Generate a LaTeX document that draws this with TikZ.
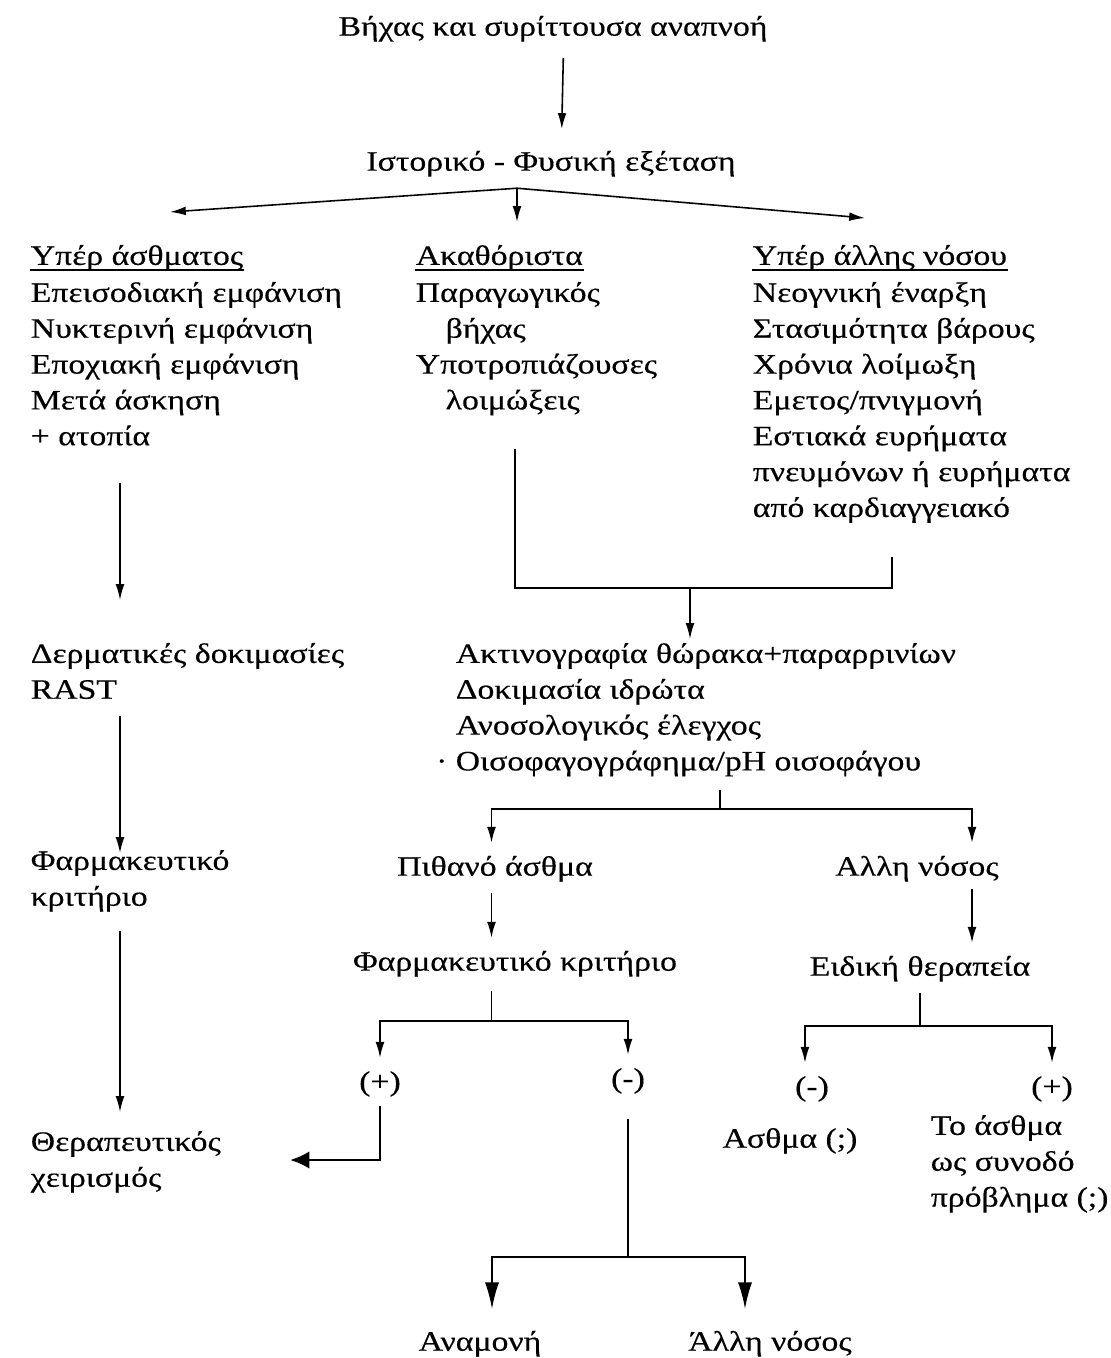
\documentclass[tikz,border=0pt]{standalone}
\usepackage{fontspec}
\setmainfont[FakeStretch=1.2,FakeBold=0.4]{Liberation Serif}
\usetikzlibrary{arrows.meta}
\tikzset{
  txt/.style={inner sep=0pt,anchor=north west,align=left,font=\fontsize{16}{20.4}\selectfont},
  ctxt/.style={inner sep=0pt,anchor=center,font=\fontsize{16}{20.4}\selectfont,execute at begin node=\rule[-6.12pt]{0pt}{24.4pt}},
  arr/.style={-{Latex[length=9pt,width=5pt]}},
  bigarr/.style={-{Latex[length=15pt,width=8pt]}},
  leftarr/.style={line width=1.6pt,-{Latex[length=11pt,width=10pt]}}
}
\begin{document}
\begin{tikzpicture}[x=0.02cm,y=-0.02cm,line width=0.9pt]
\useasboundingbox (0,0) rectangle (1111,1358);
\node[ctxt](top)at(553,25){Βήχας και συρίττουσα αναπνοή};
\node[ctxt](hist)at(551,160){Ιστορικό - Φυσική εξέταση};
\node[txt](asthH)at(30,239){\strut Υπέρ άσθματος};
\node[txt](asthL)at(30,276){\strut Επεισοδιακή εμφάνιση\\Νυκτερινή εμφάνιση\\Εποχιακή εμφάνιση\\Μετά άσκηση\\+ ατοπία};
\node[txt](undefH)at(415,239){\strut Ακαθόριστα};
\node[txt](undefL)at(415,276){\strut Παραγωγικός\\\hspace*{17pt}βήχας\\Υποτροπιάζουσες\\\hspace*{17pt}λοιμώξεις};
\node[txt](otherH)at(752,239){\strut Υπέρ άλλης νόσου};
\node[txt](otherL)at(752,276){\strut Νεογνική έναρξη\\Στασιμότητα βάρους\\Χρόνια λοίμωξη\\Εμετος/πνιγμονή\\Εστιακά ευρήματα\\πνευμόνων ή ευρήματα\\από καρδιαγγειακό};
\node[txt](skin)at(30,637){\strut Δερματικές δοκιμασίες\\RAST};
\node[txt](drugL)at(30,844){\strut Φαρμακευτικό\\κριτήριο};
\node[txt](treat)at(30,1125){\strut Θεραπευτικός\\χειρισμός};
\node[txt](tests)at(455,637){\strut Ακτινογραφία θώρακα+παραρρινίων\\Δοκιμασία ιδρώτα\\Ανοσολογικός έλεγχος\\\llap{·\ }Οισοφαγογράφημα/pH οισοφάγου};
\node[ctxt](prob)at(495,865){Πιθανό άσθμα};
\node[ctxt](othdis)at(917,865){Αλλη νόσος};
\node[ctxt](drugM)at(515,960){Φαρμακευτικό κριτήριο};
\node[ctxt](spec)at(920,965){Ειδική θεραπεία};
\node[ctxt](posM)at(380,1080){(+)};
\node[ctxt](negM)at(628,1077){(-)};
\node[ctxt](negR)at(812,1085){(-)};
\node[ctxt](posR)at(1052,1085){(+)};
\node[ctxt](asthq)at(790,1137){Ασθμα (;)};
\node[txt](comorb)at(930,1109){\strut Το άσθμα\\ως συνοδό\\πρόβλημα (;)};
\node[ctxt](wait)at(480,1340){Αναμονή};
\node[ctxt](othdis2)at(770,1340){Άλλη νόσος};
\foreach \h in {asthH,undefH,otherH}
  \draw([yshift=-3pt]\h.base west)--([yshift=-3pt]\h.base east);
\draw[arr,shorten <=6pt,shorten >=5pt]([xshift=6pt]top.south)--([xshift=6pt]hist.north);
\coordinate(hs)at([shift={(-34,6)}]hist.south);
\draw[arr](hs)--([shift={(140,-27)}]asthH.north west);
\draw[arr](hs)--([shift={(102,-17)}]undefH.north west);
\draw[arr](hs)--([shift={(113,-21)}]otherH.north west);
\draw[arr]([shift={(90,37)}]asthL.south west)--([shift={(90,-37)}]skin.north west);
\draw[arr]([shift={(90,16)}]skin.south west)--([shift={(90,9)}]drugL.north west);
\draw[arr]([shift={(90,18)}]drugL.south west)--([shift={(90,-13)}]treat.north west);
\coordinate(uA)at([shift={(100,33)}]undefL.south west);
\coordinate(oA)at([shift={(140,33)}]otherL.south west);
\coordinate(bar)at([shift={(0,-49)}]tests.north west);
\coordinate(tA)at([shift={(235,2)}]tests.north west);
\draw(uA)--(uA|-bar)--(oA|-bar)--(oA);
\draw[arr](tA|-bar)--(tA);
\coordinate(b2)at([shift={(265,13)}]tests.south west);
\coordinate(j2)at([shift={(0,-34)}]prob.north);
\coordinate(od)at([shift={(55,0)}]othdis.north);
\draw(b2)--(b2|-j2);
\draw[arr](b2|-j2)-|([xshift=-2pt]prob.north);
\draw[arr](b2|-j2)-|(od);
\draw[arr,shorten <=3pt]([xshift=-2pt]prob.south)--([xshift=-2pt]prob.south|-drugM.north);
\coordinate(os)at([shift={(55,0)}]othdis.south);
\draw[arr,shorten <=1pt](os)--(os|-spec.north);
\coordinate(j3)at([shift={(0,-37)}]posM.north);
\coordinate(d2)at([xshift=-2pt]prob.south|-drugM.south);
\draw[shorten <=5pt](d2)--(d2|-j3);
\draw[arr](d2|-j3)-|(posM.north);
\draw[arr](d2|-j3)-|(negM.north);
\coordinate(tE)at([shift={(260,35)}]treat.north west);
\draw[leftarr,shorten <=2pt](posM.south)--(posM.south|-tE)--(tE);
\coordinate(wA)at([shift={(12,-9)}]wait.north);
\coordinate(oA2)at([shift={(-25,-9)}]othdis2.north);
\coordinate(j4)at([shift={(0,-52)}]wA);
\draw[shorten <=11pt](negM.south)--(negM.south|-j4);
\draw[bigarr](negM.south|-j4)-|(wA);
\draw[bigarr](negM.south|-j4)-|(oA2);
\coordinate(j5)at([shift={(0,-37)}]posR.north);
\draw[shorten <=3pt](spec.south)--(spec.south|-j5);
\draw[arr](spec.south|-j5)-|([xshift=-4pt]negR.north);
\draw[arr](spec.south|-j5)-|(posR.north);
\end{tikzpicture}
\end{document}
